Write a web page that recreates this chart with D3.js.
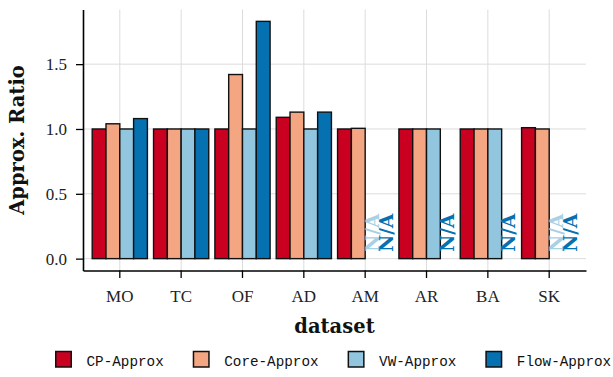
<!DOCTYPE html>
<html>
<head>
<meta charset="utf-8">
<script src="https://cdn.jsdelivr.net/npm/d3@7"></script>
<style>
  html, body { margin: 0; padding: 0; background: #ffffff; }
  svg { display: block; }
</style>
</head>
<body>
<svg id="chart" width="613" height="377"></svg>
<script>
// Approximation ratio per dataset for each method (null = not available)
const datasets = ["MO", "TC", "OF", "AD", "AM", "AR", "BA", "SK"];
const methods = ["CP-Approx", "Core-Approx", "VW-Approx", "Flow-Approx"];
const cpApprox   = [1.00, 1.00, 1.00, 1.09, 1.00, 1.00, 1.00, 1.01];
const coreApprox = [1.04, 1.00, 1.42, 1.13, 1.005, 1.00, 1.00, 1.00];
const vwApprox   = [1.00, 1.00, 1.00, 1.00, null, 1.00, 1.00, null];
const flowApprox = [1.08, 1.00, 1.83, 1.13, null, null, null, null];
const yTicks = [0, 0.5, 1.0, 1.5];
const naLabel = "N/A";

const seriesValues = [cpApprox, coreApprox, vwApprox, flowApprox];
const colors = ["#ca0020", "#f4a582", "#92c5de", "#0571b0"];

const rows = [];
datasets.forEach((ds, i) => {
  methods.forEach((m, j) => {
    rows.push({ dataset: ds, method: m, value: seriesValues[j][i], color: colors[j] });
  });
});

const svg = d3.select("#chart");
const panel = { left: 83, right: 586, top: 9.5, bottom: 270.5 };

const x = d3.scaleBand()
  .domain(datasets)
  .range([panel.left, panel.right])
  .paddingInner(0)
  .paddingOuter(0.1);

const inner = d3.scaleBand()
  .domain(methods)
  .range([x.bandwidth() * 0.05, x.bandwidth() * 0.95]);

const vmax = d3.max(rows, d => d.value);
const pad = vmax * 0.05;
const y = d3.scaleLinear()
  .domain([-pad, vmax + pad])
  .range([panel.bottom, panel.top]);

// grid
const grid = svg.append("g").attr("stroke", "#dcdcdc").attr("stroke-width", 1);
grid.selectAll("line.h").data(yTicks).join("line")
  .attr("x1", panel.left).attr("x2", panel.right)
  .attr("y1", d => y(d)).attr("y2", d => y(d));
grid.selectAll("line.v").data(datasets).join("line")
  .attr("y1", panel.top).attr("y2", panel.bottom)
  .attr("x1", d => x(d) + x.bandwidth() / 2).attr("x2", d => x(d) + x.bandwidth() / 2);

// bars
svg.append("g").selectAll("rect")
  .data(rows.filter(d => d.value != null))
  .join("rect")
  .attr("x", d => x(d.dataset) + inner(d.method))
  .attr("width", inner.bandwidth())
  .attr("y", d => y(d.value))
  .attr("height", d => y(0) - y(d.value))
  .attr("fill", d => d.color)
  .attr("stroke", "#111")
  .attr("stroke-width", 1.4);

// N/A markers for missing values
svg.append("g").selectAll("text")
  .data(rows.filter(d => d.value == null))
  .join("text")
  .attr("transform", d => `translate(${x(d.dataset) + inner(d.method) + inner.bandwidth() / 2},${y(0) - 7}) rotate(-90)`)
  .attr("dy", "0.36em")
  .attr("text-anchor", "start")
  .attr("font-family", "DejaVu Serif")
  .attr("font-weight", "bold")
  .attr("font-size", 18.5)
  .attr("fill", d => d.color)
  .attr("fill-opacity", d => d.method === "VW-Approx" ? 0.8 : 1)
  .text(naLabel);

// axes
const yAxis = svg.append("g")
  .attr("transform", `translate(${panel.left},0)`)
  .call(d3.axisLeft(y).tickValues(yTicks).tickFormat(d3.format(".1f")).tickSize(7).tickSizeOuter(0).tickPadding(9));
const xAxis = svg.append("g")
  .attr("transform", `translate(0,${panel.bottom})`)
  .call(d3.axisBottom(x).tickSize(7.5).tickSizeOuter(0).tickPadding(12));

[yAxis, xAxis].forEach(ax => {
  ax.select(".domain").attr("stroke", "#000").attr("stroke-width", 1.6);
  ax.selectAll(".tick line").attr("stroke", "#000").attr("stroke-width", 1.3);
  ax.selectAll(".tick text")
    .attr("font-family", "Liberation Serif")
    .attr("font-size", 17)
    .attr("fill", "#222");
});

// axis titles
svg.append("text")
  .attr("transform", `translate(24,${(panel.top + panel.bottom) / 2}) rotate(-90)`)
  .attr("text-anchor", "middle")
  .attr("font-family", "DejaVu Serif")
  .attr("font-weight", "bold")
  .attr("font-size", 19.5)
  .attr("fill", "#111")
  .text("Approx. Ratio");

svg.append("text")
  .attr("x", (panel.left + panel.right) / 2)
  .attr("y", 333)
  .attr("text-anchor", "middle")
  .attr("font-family", "DejaVu Serif")
  .attr("font-weight", "bold")
  .attr("font-size", 19.5)
  .attr("fill", "#111")
  .text("dataset");

// legend
const legend = svg.append("g");
let lx = 55;
methods.forEach((m, j) => {
  legend.append("rect")
    .attr("x", lx + 0.75).attr("y", 351.5)
    .attr("width", 15.5).attr("height", 15.5)
    .attr("fill", colors[j])
    .attr("stroke", "#111")
    .attr("stroke-width", 1.5);
  const t = legend.append("text")
    .attr("x", lx + 31.5)
    .attr("y", 365.5)
    .attr("font-family", "Liberation Mono")
    .attr("font-size", 14.3)
    .attr("fill", "#111")
    .text(m);
  lx = lx + 31.5 + t.node().getComputedTextLength() + 29;
});
</script>
</body>
</html>
